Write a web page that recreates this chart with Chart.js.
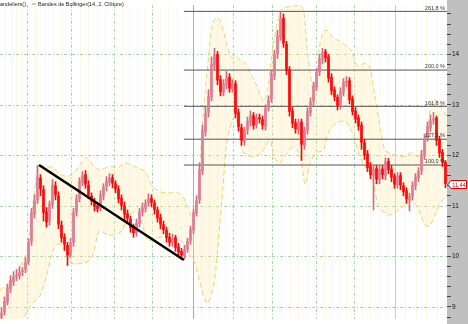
<!DOCTYPE html>
<html>
<head>
<meta charset="utf-8">
<script src="https://cdn.jsdelivr.net/npm/chart.js@4/dist/chart.umd.min.js"></script>
<style>
  html, body { margin: 0; padding: 0; background: #fff; }
  #wrap { width: 468px; height: 324px; }
</style>
</head>
<body>
<div id="wrap"><canvas id="chart-candles"></canvas></div>
<script>
/*  ---------------------------- DATA ---------------------------- */
// chandeliers : une bougie par index (0..148)
const opens = [8.80,8.90,9.10,9.36,9.50,9.60,9.62,9.70,9.74,9.90,
  10.30,10.84,11.12,11.55,11.32,10.88,10.70,11.02,11.40,11.20,
  10.62,10.38,10.22,10.05,10.28,10.88,11.15,11.47,11.62,11.41,
  11.20,11.08,11.00,10.96,11.20,11.38,11.47,11.56,11.44,11.33,
  11.15,11.00,10.85,10.74,10.58,10.48,10.65,10.88,10.95,11.06,
  11.15,11.06,10.92,10.77,10.63,10.52,10.38,10.27,10.37,10.19,
  10.10,10.02,10.15,10.31,10.52,10.86,11.12,11.70,12.47,12.85,
  13.15,13.78,14.00,13.50,13.25,13.40,13.55,13.32,13.42,12.85,
  12.55,12.28,12.50,12.66,12.79,12.61,12.75,12.71,12.58,12.95,
  13.12,13.58,14.00,14.35,14.72,14.20,13.70,12.88,12.65,12.51,
  12.66,12.20,12.50,12.85,13.08,13.35,13.65,13.90,14.05,13.95,
  13.55,13.30,13.15,13.00,13.25,13.44,13.48,13.12,12.88,12.74,
  12.60,12.25,12.03,11.78,11.60,11.74,11.52,11.73,11.60,11.88,
  11.73,11.58,11.42,11.60,11.40,11.30,11.12,11.19,11.40,11.55,
  11.70,12.00,12.35,12.55,12.70,12.74,12.32,12.06,11.86];
const highs = [8.98,9.20,9.45,9.62,9.70,9.74,9.80,9.78,9.97,10.35,
  10.95,11.22,11.80,11.62,11.40,10.97,11.10,11.52,11.48,11.28,
  10.70,10.45,10.28,10.35,10.95,11.22,11.56,11.68,11.70,11.50,
  11.26,11.15,11.06,11.30,11.44,11.58,11.64,11.62,11.50,11.40,
  11.22,11.08,10.92,10.80,10.64,10.74,10.95,11.06,11.12,11.24,
  11.22,11.12,10.98,10.84,10.70,10.58,10.46,10.44,10.42,10.26,
  10.16,10.22,10.36,10.60,10.94,11.20,11.85,12.60,12.95,13.30,
  13.95,14.12,14.06,13.58,13.50,13.66,13.62,13.50,13.48,12.92,
  12.62,12.56,12.76,12.88,12.85,12.82,12.82,12.78,13.00,13.18,
  13.68,14.08,14.48,14.85,14.80,14.26,13.76,12.95,12.72,12.72,
  12.72,12.56,12.94,13.14,13.45,13.72,14.00,14.12,14.10,14.00,
  13.62,13.36,13.20,13.34,13.52,13.56,13.54,13.18,12.95,12.80,
  12.66,12.32,12.10,11.86,11.80,11.80,11.80,11.80,11.95,11.94,
  11.80,11.64,11.66,11.66,11.46,11.36,11.25,11.48,11.64,11.76,
  12.10,12.42,12.66,12.80,12.85,12.78,12.38,12.12,11.90];
const lows = [8.70,8.84,9.04,9.28,9.42,9.52,9.55,9.62,9.68,9.84,
  10.22,10.76,11.05,11.20,10.70,10.58,10.62,10.95,11.12,10.55,
  10.28,10.12,9.82,9.98,10.20,10.80,11.08,11.40,11.35,11.14,
  11.02,10.90,10.88,10.90,11.12,11.30,11.40,11.36,11.26,11.06,
  10.92,10.70,10.66,10.48,10.38,10.40,10.58,10.80,10.88,11.00,
  10.98,10.84,10.68,10.55,10.45,10.28,10.20,10.20,10.10,10.00,
  9.94,9.95,10.08,10.24,10.45,10.80,11.05,11.62,12.38,12.76,
  13.08,13.70,13.40,13.18,13.18,13.32,13.25,13.25,12.74,12.48,
  12.20,12.20,12.42,12.58,12.52,12.54,12.64,12.52,12.50,12.88,
  13.05,13.50,13.92,14.28,14.14,13.60,12.78,12.55,12.44,12.42,
  11.90,12.12,12.42,12.78,13.00,13.28,13.58,13.82,13.85,13.45,
  13.20,13.08,12.90,12.92,13.18,13.36,13.02,12.80,12.64,12.50,
  12.12,11.92,11.68,11.54,10.92,11.44,11.44,11.54,11.52,11.64,
  11.48,11.35,11.35,11.32,11.20,11.05,10.90,11.12,11.32,11.48,
  11.62,11.92,12.28,12.48,12.62,12.20,11.96,11.78,11.36];
const closes = [8.88,9.11,9.38,9.53,9.59,9.63,9.68,9.72,9.88,10.28,
  10.86,11.10,11.57,11.34,10.87,10.68,11.03,11.41,11.22,10.64,
  10.37,10.24,10.03,10.26,10.87,11.14,11.49,11.60,11.43,11.22,
  11.10,10.99,10.95,11.22,11.37,11.49,11.55,11.45,11.34,11.14,
  11.01,10.84,10.76,10.57,10.47,10.66,10.87,10.97,11.05,11.14,
  11.07,10.93,10.76,10.64,10.53,10.37,10.28,10.36,10.18,10.09,
  10.03,10.14,10.30,10.53,10.87,11.10,11.72,12.49,12.83,13.16,
  13.80,13.99,13.49,13.26,13.41,13.53,13.33,13.41,12.83,12.57,
  12.30,12.49,12.68,12.78,12.60,12.74,12.72,12.60,12.93,13.10,
  13.60,13.99,14.37,14.70,14.22,13.68,12.87,12.64,12.53,12.64,
  12.22,12.49,12.87,13.06,13.37,13.64,13.91,14.03,13.93,13.53,
  13.28,13.16,12.99,13.26,13.45,13.47,13.10,12.87,12.72,12.58,
  12.26,12.01,11.76,11.62,11.72,11.53,11.72,11.62,11.87,11.72,
  11.57,11.43,11.59,11.41,11.28,11.14,11.18,11.41,11.57,11.68,
  12.01,12.33,12.57,12.68,12.72,12.30,12.05,11.87,11.44];

// Bandes de Bollinger (position en index de bougie, valeur)
const upperX = [-0.5,2.8,6.2,8.5,9.5,10.5,11.5,12.5,14.5,17.2,19.5,22.2,24.5,26.2,27.8,29.2,31.2,32.8,36.2,38.8,
  41.2,43.5,45.2,47.8,50.2,52.8,56.2,58.8,60.5,62.2,63.8,65.2,66.2,67.2,68.5,69.5,70.5,71.8,72.8,74.2,
  75.5,76.8,78.2,79.5,81.2,82.8,84.5,86.2,87.5,88.8,89.8,90.8,92.2,93.5,96.2,99.5,100.8,101.8,102.8,103.8,
  105.2,106.2,107.5,108.8,110.5,112.8,114.8,116.8,118.5,120.2,121.5,122.8,124.5,126.2,127.8,129.5,133.5,136.8,138.8,140.5,
  142.2,143.5,144.8,146.2,148.5];
const upperY = [9.32,9.51,9.80,10.09,10.53,11.05,11.53,11.80,11.78,11.76,11.62,11.59,11.68,11.82,11.95,11.91,11.76,11.72,11.78,11.76,
  11.85,11.80,11.76,11.68,11.41,11.28,11.26,11.26,11.18,10.95,10.72,11.14,11.91,12.78,13.64,14.22,14.64,14.72,14.68,14.41,
  14.12,13.93,13.97,13.89,13.83,13.64,13.45,13.22,13.06,13.35,13.83,14.26,14.70,14.89,14.95,14.97,14.83,14.12,13.70,13.31,
  13.64,14.22,14.45,14.47,14.33,14.26,14.18,14.06,13.78,13.80,13.83,13.74,13.16,12.58,12.10,12.05,11.97,12.05,11.97,12.14,
  12.62,13.06,13.10,12.99,12.76];
const lowerX = [-0.5,6.2,8.8,11.2,12.8,15.2,16.8,18.5,20.2,21.8,23.5,26.2,28.5,30.5,31.8,32.8,35.2,37.8,40.2,41.8,
  43.5,45.2,46.8,48.8,52.2,55.2,57.8,60.5,62.8,64.5,66.2,68.5,70.5,71.8,72.8,73.8,74.8,76.2,77.8,78.8,
  80.5,83.8,86.8,89.5,90.8,92.8,95.2,97.2,99.5,101.2,102.8,104.8,107.2,108.8,111.2,114.5,116.2,117.8,119.5,121.2,
  123.5,125.5,127.2,129.5,132.2,134.5,136.8,138.8,141.2,142.8,144.5,146.8,148.5];
const lowerY = [8.45,8.65,8.95,9.13,9.22,9.66,10.05,10.24,10.22,9.99,9.86,9.86,9.89,10.03,10.37,10.51,10.43,10.43,10.51,10.72,
  10.86,10.89,10.66,10.32,10.37,10.41,10.34,10.28,10.03,9.86,9.47,9.07,9.36,9.95,10.66,11.34,12.10,12.55,12.78,12.58,
  12.07,11.97,12.07,12.30,11.97,11.85,12.05,12.16,12.01,11.43,11.82,12.05,12.10,12.43,12.62,12.68,12.55,12.30,11.97,11.78,
  11.59,11.01,10.89,10.82,10.91,11.01,11.10,10.95,10.62,10.61,10.82,11.10,11.20];

// Fibonacci : points d'ancrage (0 % et 100 %) et niveaux affichés
const fibLow = 9.93;
const fibHigh = 11.81;
const fibRatios = [1, 1.272, 1.618, 2, 2.618];
const fibLabels = ["100,0 %", "127,2 %", "161,8 %", "200,0 %", "261,8 %"];
const fibStartX = 60.8;

// ligne de tendance tracée à la main
const trendPoints = [{ x: 12.5, y: 11.81 }, { x: 60.8, y: 9.93 }];

// séparateurs de mois (index de bougie)
const monthLines = [8.5, 23.2, 37.5, 50.2, 63.8, 77.2, 90.2, 104.8, 117.5, 131.2];
/*  -------------------------------------------------------------- */

const UP = "#dc7f95";
const DOWN = "#ff0a0a";
const candleColors = closes.map((c, i) => (c >= opens[i] ? UP : DOWN));
const wickColors = closes.map((c, i) => (c >= opens[i] ? "#d06a84" : "#e01010"));

const fibLevels = fibRatios.map((r) => fibLow + r * (fibHigh - fibLow));
const lastClose = closes[closes.length - 1];

const fibDatasets = fibLevels.map((lvl) => ({
  type: "line",
  data: [{ x: fibStartX, y: lvl }, { x: 148.5, y: lvl }],
  borderColor: "#555555",
  borderWidth: 1,
  pointRadius: 0,
  order: 3,
}));

const ctx = document.getElementById("chart-candles").getContext("2d");

new Chart(ctx, {
  data: {
    datasets: [
      {
        type: "line", // bande haute
        data: upperX.map((x, i) => ({ x, y: upperY[i] })),
        borderColor: "#e2d670",
        borderWidth: 1,
        borderDash: [5, 3],
        pointRadius: 0,
        tension: 0.3,
        fill: false,
        order: 10,
      },
      {
        type: "line", // bande basse + remplissage
        data: lowerX.map((x, i) => ({ x, y: lowerY[i] })),
        borderColor: "#e2d670",
        borderWidth: 1,
        borderDash: [5, 3],
        pointRadius: 0,
        tension: 0.3,
        fill: "-1",
        backgroundColor: "rgba(255, 232, 170, 0.3)",
        order: 9,
      },
      {
        type: "bar", // mèches
        data: highs.map((h, i) => ({ x: i, y: [lows[i], h] })),
        backgroundColor: wickColors,
        barThickness: 1,
        grouped: false,
        order: 2,
      },
      {
        type: "bar", // corps
        data: opens.map((o, i) => ({ x: i, y: [o, closes[i]] })),
        backgroundColor: candleColors,
        barThickness: 2,
        minBarLength: 1,
        grouped: false,
        order: 1,
      },
      ...fibDatasets,
      {
        type: "line", // tendance
        data: trendPoints,
        borderColor: "#000000",
        borderWidth: 2.5,
        pointRadius: 0,
        order: 0,
      },
    ],
  },
  options: {
    responsive: true,
    maintainAspectRatio: false,
    animation: false,
    layout: { padding: 0 },
    scales: {
      x: {
        type: "linear",
        min: -0.5,
        max: 148.5,
        offset: false,
        display: false,
      },
      y: {
        position: "right",
        min: 8.76,
        max: 14.98,
        afterFit(scale) {
          scale.width = 21;
        },
        border: { display: false },
        grid: {
          drawOnChartArea: false,
          tickLength: 4,
          tickColor: "#444",
        },
        ticks: {
          stepSize: 0.2,
          autoSkip: false,
          includeBounds: false,
          padding: 1,
          color: "#111",
          font: { family: "Arial, 'Liberation Sans'", size: 6.5 },
          callback: (v) => (Math.abs(v - Math.round(v)) < 1e-6 ? String(Math.round(v)) : ""),
        },
      },
    },
    plugins: {
      legend: { display: false },
      tooltip: { enabled: false },
    },
  },
  plugins: [
    {
      id: "axisBackground",
      beforeDraw(chart) {
        const { ctx, chartArea, width, height } = chart;
        ctx.save();
        ctx.fillStyle = "#ffffff";
        ctx.fillRect(0, 0, width, height);
        ctx.fillStyle = "#c0c0c0";
        ctx.fillRect(chartArea.right, 0, width - chartArea.right, height);
        ctx.restore();
      },
    },
    {
      id: "gridLines",
      beforeDatasetsDraw(chart) {
        const { ctx, chartArea: a, scales } = chart;
        const xs = scales.x, ys = scales.y;
        ctx.save();
        ctx.beginPath();
        ctx.rect(a.left, a.top, a.right - a.left, a.bottom - a.top);
        ctx.clip();
        ctx.lineWidth = 1;

        // lignes fines (semaines)
        ctx.strokeStyle = "#fdf7e6";
        const bounds = [-0.5, ...monthLines, 148.5];
        for (let m = 0; m < bounds.length - 1; m++) {
          for (let k = 1; k < 5; k++) {
            const v = bounds[m] + ((bounds[m + 1] - bounds[m]) * k) / 5;
            const x = Math.round(xs.getPixelForValue(v)) + 0.5;
            ctx.beginPath();
            ctx.moveTo(x, a.top);
            ctx.lineTo(x, a.bottom);
            ctx.stroke();
          }
        }

        // mois
        monthLines.forEach((v, i) => {
          const x = Math.round(xs.getPixelForValue(v)) + 0.5;
          if (i === 4) {
            ctx.strokeStyle = "#b3aaaa";
            ctx.setLineDash([]);
          } else if (i === 9) {
            ctx.strokeStyle = "#b4dab4";
            ctx.setLineDash([]);
          } else {
            ctx.strokeStyle = "#a8d4a8";
            ctx.setLineDash([3, 2, 1, 2]);
          }
          ctx.beginPath();
          ctx.moveTo(x, a.top);
          ctx.lineTo(x, a.bottom);
          ctx.stroke();
        });

        // horizontales aux entiers
        ctx.strokeStyle = "#a8d4a8";
        ctx.setLineDash([3, 2, 1, 2]);
        for (let v = 9; v <= 14; v++) {
          const y = Math.round(ys.getPixelForValue(v)) + 0.5;
          ctx.beginPath();
          ctx.moveTo(a.left, y);
          ctx.lineTo(a.right, y);
          ctx.stroke();
        }
        ctx.restore();
      },
    },
    {
      id: "labels",
      afterDraw(chart) {
        const { ctx, chartArea: a, scales, width } = chart;
        const ys = scales.y;
        ctx.save();

        // étiquettes Fibonacci
        ctx.font = "5.5px Arial, 'Liberation Sans'";
        ctx.fillStyle = "#333";
        ctx.textAlign = "right";
        ctx.textBaseline = "bottom";
        fibLevels.forEach((lvl, i) => {
          ctx.fillText(fibLabels[i], a.right - 2, ys.getPixelForValue(lvl) - 0.5);
        });

        // légende en haut à gauche
        ctx.textAlign = "left";
        ctx.textBaseline = "middle";
        ctx.fillStyle = "#222";
        const cut = ctx.measureText("Ch").width;
        ctx.fillText("Chandeliers()", -cut, 4);
        ctx.fillStyle = "#e2d670";
        ctx.fillRect(32, 3, 4, 2);
        ctx.fillStyle = "#222";
        ctx.fillText("Bandes de Bollinger(14, 2, Clôture)", 38, 4);

        // dernier cours
        const y = Math.round(ys.getPixelForValue(lastClose)) + 0.5;
        ctx.beginPath();
        ctx.moveTo(a.right + 1, y);
        ctx.lineTo(a.right + 4, y - 4);
        ctx.lineTo(width - 1.5, y - 4);
        ctx.lineTo(width - 1.5, y + 4);
        ctx.lineTo(a.right + 4, y + 4);
        ctx.closePath();
        ctx.fillStyle = "#ffffff";
        ctx.fill();
        ctx.strokeStyle = "#e00000";
        ctx.lineWidth = 1;
        ctx.stroke();
        ctx.fillStyle = "#e00000";
        ctx.textAlign = "center";
        ctx.font = "5.5px Arial, 'Liberation Sans'";
        ctx.fillText(lastClose.toFixed(2).replace(".", ","), (a.right + width) / 2 + 1.5, y + 0.5);

        ctx.restore();
      },
    },
  ],
});
</script>
</body>
</html>
